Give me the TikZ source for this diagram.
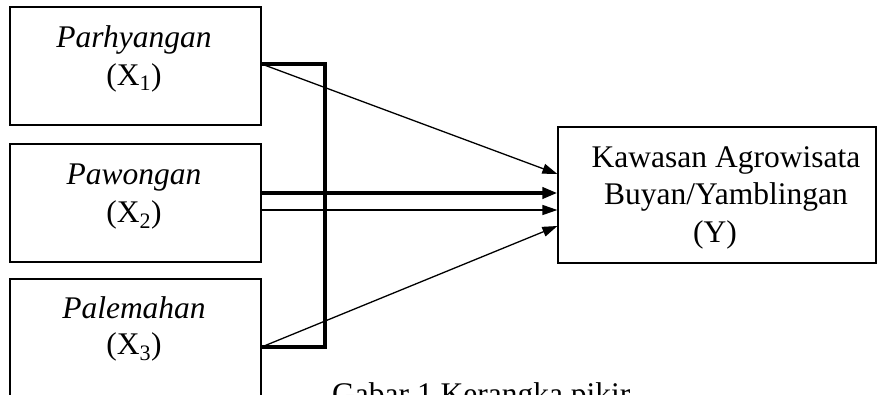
\documentclass[tikz,border=0pt]{standalone}
\usepackage{fontspec}
\setmainfont{Liberation Serif}
\usetikzlibrary{arrows.meta}
\begin{document}
\begin{tikzpicture}[x=1pt,y=-1pt,
  box/.style={draw,line width=1.2pt,inner sep=0pt,minimum width=251pt},
  txt/.style={inner sep=0pt,anchor=base,font=\fontsize{31.5}{37}\selectfont},
  thinarrow/.style={line width=1.3pt,-{Triangle[length=15pt,width=10pt]}},
  thickarrow/.style={line width=4.5pt,-{Triangle[length=15pt,width=11pt]}},
  bracket/.style={line width=4.5pt,line join=miter}]
\useasboundingbox (0,0) rectangle (879,394);
\clip (0,0) rectangle (879,394);
% boxes
\node[box,minimum height=118pt] (x1) at (135.5,66) {};
\node[box,minimum height=118pt] (x2) at (135.5,203) {};
\node[box,minimum height=124pt] (x3) at (135.5,341) {};
\node[draw,line width=1.2pt,inner sep=0pt,minimum width=318pt,minimum height=136pt] (y) at (717,195) {};
% texts
\node[txt] (t1a) at (134,47) {\itshape Parhyangan};
\node[txt] (t1b) at (134,85) {(X\textsubscript{1})};
\node[txt] (t2a) at (134,184) {\itshape Pawongan};
\node[txt] (t2b) at (134,222) {(X\textsubscript{2})};
\node[txt] (t3a) at (134,318) {\itshape Palemahan};
\node[txt] (t3b) at (134,354) {(X\textsubscript{3})};
\node[txt] (ya) at (726,167) {Kawasan Agrowisata};
\node[txt] (yb) at (726,204) {Buyan/Yamblingan};
\node[txt] (yc) at (715,242) {(Y)};
\node[txt,anchor=base west] (cap) at (332,404) {Gabar 1 Kerangka pikir};
% connector points
\coordinate (p1) at (x1.east |- 0,64);
\coordinate (p3) at (x3.east |- 0,347);
\coordinate (q2a) at (x2.east |- 0,193);
\coordinate (q2b) at (x2.east |- 0,210);
\coordinate (r1) at (y.west |- 0,174);
\coordinate (r2a) at (y.west |- 0,193);
\coordinate (r2b) at (y.west |- 0,210);
\coordinate (r3) at (y.west |- 0,226);
% bracket
\draw[bracket] (p1) -- (325,64) -- (325,347) -- (p3);
% arrows
\draw[thinarrow] (p1) -- (r1);
\draw[thickarrow] (q2a) -- (r2a);
\draw[thinarrow] (q2b) -- (r2b);
\draw[thinarrow] (p3) -- (r3);
\end{tikzpicture}
\end{document}
